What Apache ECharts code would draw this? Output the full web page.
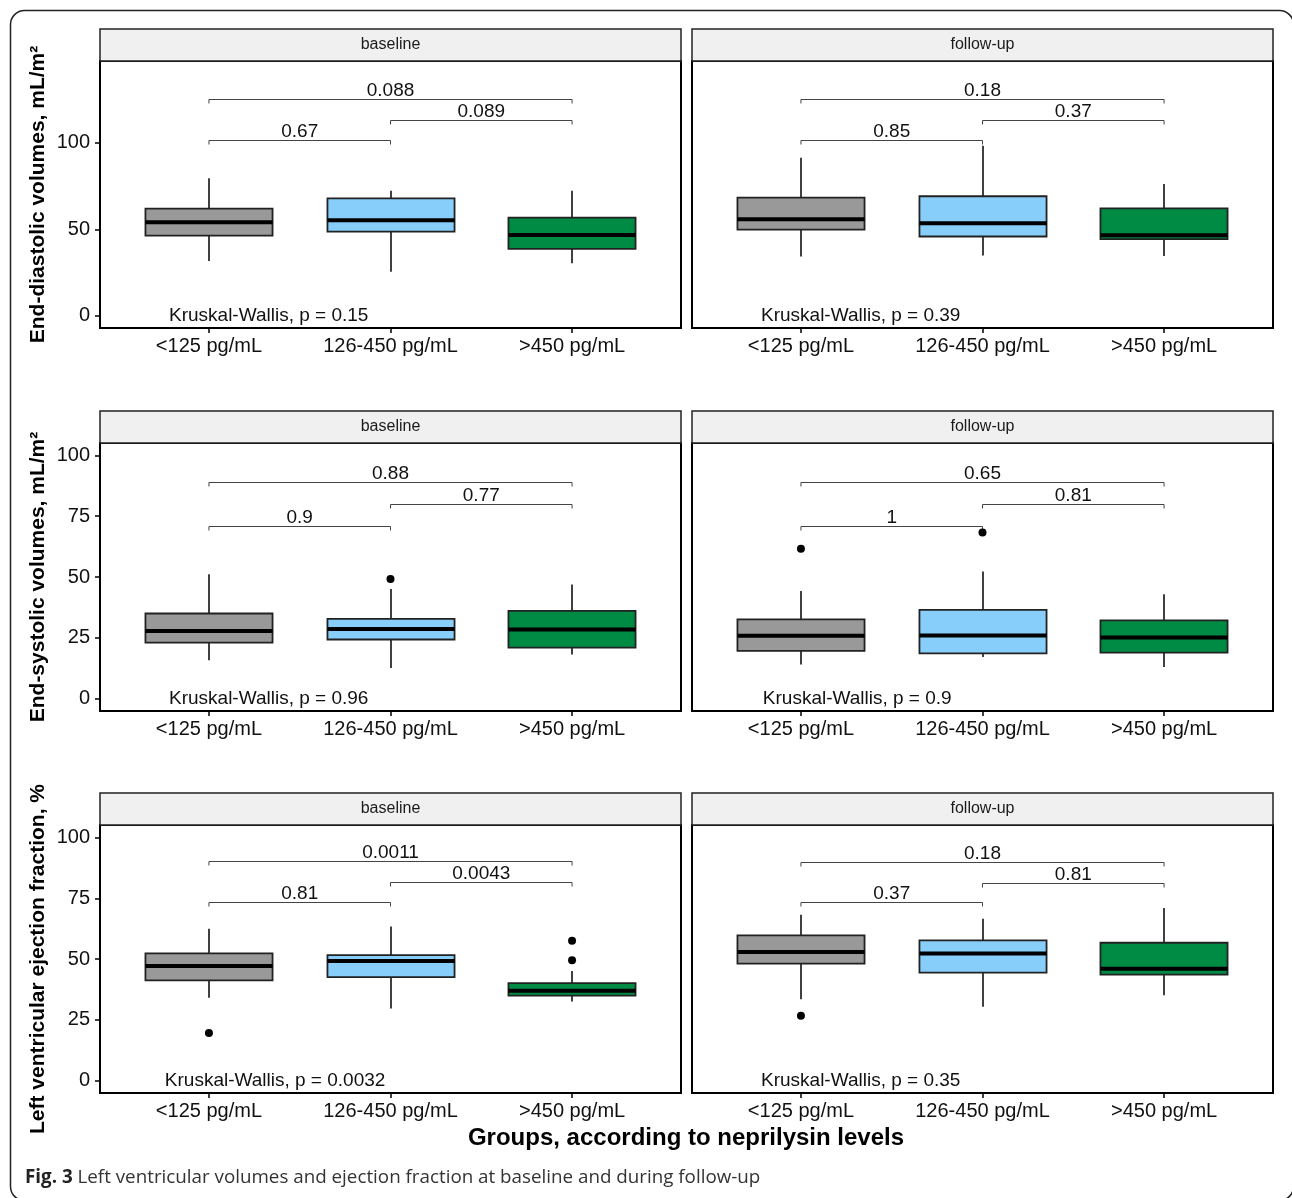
<!DOCTYPE html>
<html><head><meta charset="utf-8">
<script src="https://cdn.jsdelivr.net/npm/echarts@6/dist/echarts.min.js"></script>
<style>html,body{margin:0;padding:0;background:#fff}#c{width:1292px;height:1198px}</style>
</head><body><div id="c"></div>
<script>
// ---------------- data ----------------
const categories = ['<125 pg/mL', '126-450 pg/mL', '>450 pg/mL'];
const timepoints = ['baseline', 'follow-up'];
const measureTitles = ['End-diastolic volumes, mL/m²', 'End-systolic volumes, mL/m²', 'Left ventricular ejection fraction, %'];
const xAxisTitle = 'Groups, according to neprilysin levels';
const captionLead = 'Fig. 3';
const captionText = 'Left ventricular volumes and ejection fraction at baseline and during follow-up';

const yTicksEDV = [0, 50, 100];
const yTicksESV = [0, 25, 50, 75, 100];
const yTicksLVEF = [0, 25, 50, 75, 100];

// [lower whisker, Q1, median, Q3, upper whisker] for each group
const edvBaseline = [[31.6, 46.3, 54.1, 61.9, 79.5], [25.4, 48.6, 55.2, 67.9, 72.3], [30.4, 38.7, 46.7, 56.7, 72.3]];
const edvFollowup = [[34.2, 49.8, 55.8, 68.3, 91.3], [34.8, 45.8, 53.5, 69.1, 98.3], [34.6, 44.3, 46.6, 62.1, 76.2]];
const esvBaseline = [[15.8, 23.0, 27.8, 35.0, 51.1], [12.6, 24.3, 28.6, 32.8, 45.1], [18.1, 21.0, 28.4, 36.1, 46.9]];
const esvFollowup = [[14.0, 19.6, 25.8, 32.6, 44.2], [17.1, 18.6, 25.9, 36.5, 52.3], [13.0, 18.9, 25.1, 32.2, 42.9]];
const lvefBaseline = [[34.0, 41.2, 47.1, 52.3, 62.5], [29.6, 42.5, 49.2, 51.6, 63.4], [32.5, 34.9, 36.9, 40.1, 45.1]];
const lvefFollowup = [[33.4, 48.1, 52.9, 59.7, 68.2], [30.3, 44.4, 52.3, 57.7, 66.6], [35.1, 43.6, 46.0, 56.7, 71.0]];

// outliers: [group number, value]
const edvBaselineOut = [];
const edvFollowupOut = [];
const esvBaselineOut = [[2, 49.2]];
const esvFollowupOut = [[1, 61.6], [2, 68.3]];
const lvefBaselineOut = [[1, 19.5], [3, 57.5], [3, 49.5]];
const lvefFollowupOut = [[1, 26.6]];

// pairwise comparisons: groups 1-2, 2-3, 1-3
const comparisonPairs = [[1, 2], [2, 3], [1, 3]];
const edvBaselineP = ['0.67', '0.089', '0.088'];
const edvFollowupP = ['0.85', '0.37', '0.18'];
const esvBaselineP = ['0.9', '0.77', '0.88'];
const esvFollowupP = ['1', '0.81', '0.65'];
const lvefBaselineP = ['0.81', '0.0043', '0.0011'];
const lvefFollowupP = ['0.37', '0.81', '0.18'];
// bracket heights (y values)
const edvBracketY = [101.6, 113.3, 125.2];
const esvBracketY = [71.0, 80.0, 89.0];
const lvefBaselineBracketY = [73.5, 81.8, 90.3];
const lvefFollowupBracketY = [73.3, 81.5, 90.1];

// Kruskal-Wallis p values
const edvKW = ['0.15', '0.39'];
const esvKW = ['0.96', '0.9'];
const lvefKW = ['0.0032', '0.35'];

// ---------------- layout / style ----------------
const FONT = "'Liberation Sans', Arial, Helvetica, sans-serif";
const CAPFONT = "'Open Sans', 'Noto Sans', sans-serif";
const boxColors = ['#999999', '#87CEFA', '#008B45'];
const boxWidth = 0.7;
const colLeft = [100, 692];
const panelW = 581;
const rowTop = [61, 443, 825];
const rowH = [267, 268, 268];
const stripH = 32;
const yRanges = [[-7.1, 147.3], [-5.1, 105.1], [-5.2, 105.2]];
const kwX = [[0.78, 0.78], [0.78, 0.79], [0.757, 0.78]];

const panels = [
  { row: 0, col: 0, box: edvBaseline, out: edvBaselineOut, p: edvBaselineP, by: edvBracketY, kw: edvKW[0], ticks: yTicksEDV },
  { row: 0, col: 1, box: edvFollowup, out: edvFollowupOut, p: edvFollowupP, by: edvBracketY, kw: edvKW[1], ticks: yTicksEDV },
  { row: 1, col: 0, box: esvBaseline, out: esvBaselineOut, p: esvBaselineP, by: esvBracketY, kw: esvKW[0], ticks: yTicksESV },
  { row: 1, col: 1, box: esvFollowup, out: esvFollowupOut, p: esvFollowupP, by: esvBracketY, kw: esvKW[1], ticks: yTicksESV },
  { row: 2, col: 0, box: lvefBaseline, out: lvefBaselineOut, p: lvefBaselineP, by: lvefBaselineBracketY, kw: lvefKW[0], ticks: yTicksLVEF },
  { row: 2, col: 1, box: lvefFollowup, out: lvefFollowupOut, p: lvefFollowupP, by: lvefFollowupBracketY, kw: lvefKW[1], ticks: yTicksLVEF }
];

function renderBox(params, api) {
  const x = api.value(0);
  const lo = api.coord([x, api.value(1)]);
  const q1 = api.coord([x, api.value(2)]);
  const md = api.coord([x, api.value(3)]);
  const q3 = api.coord([x, api.value(4)]);
  const hi = api.coord([x, api.value(5)]);
  const w = api.size([boxWidth, 0])[0];
  const cx = Math.round(lo[0]);
  return {
    type: 'group',
    children: [
      { type: 'line', shape: { x1: cx, y1: hi[1], x2: cx, y2: q3[1] }, style: { stroke: '#111', lineWidth: 1.6 } },
      { type: 'line', shape: { x1: cx, y1: q1[1], x2: cx, y2: lo[1] }, style: { stroke: '#111', lineWidth: 1.6 } },
      { type: 'rect', shape: { x: cx - w / 2, y: q3[1], width: w, height: q1[1] - q3[1] },
        style: { fill: boxColors[params.dataIndex], stroke: '#222', lineWidth: 1.8 } },
      { type: 'line', shape: { x1: cx - w / 2, y1: md[1], x2: cx + w / 2, y2: md[1] }, style: { stroke: '#000', lineWidth: 4 } }
    ]
  };
}

function makeBracketRenderer(labels) {
  return function (params, api) {
    const a = api.coord([api.value(0), api.value(2)]);
    const b = api.coord([api.value(1), api.value(2)]);
    const y = Math.round(a[1]) + 0.5;
    const tip = 4;
    return {
      type: 'group',
      children: [
        { type: 'polyline', shape: { points: [[a[0], y + tip], [a[0], y], [b[0], y], [b[0], y + tip]] },
          style: { stroke: '#444', lineWidth: 1, fill: null } },
        { type: 'text', x: (a[0] + b[0]) / 2, y: y + 1,
          style: { text: labels[params.dataIndex], fill: '#111', fontSize: 19, fontFamily: FONT, align: 'center', verticalAlign: 'bottom' } }
      ]
    };
  };
}

function makeKWRenderer(txt) {
  return function (params, api) {
    const a = api.coord([api.value(0), api.value(1)]);
    return { type: 'text', x: a[0], y: a[1],
      style: { text: 'Kruskal-Wallis, p = ' + txt, fill: '#111', fontSize: 19, fontFamily: FONT, align: 'left', verticalAlign: 'middle' } };
  };
}

const grid = [], xAxis = [], yAxis = [], series = [], graphic = [];

// outer frame
graphic.push({ type: 'rect', z: 0, shape: { x: 10.5, y: 10.5, width: 1283, height: 1190, r: 14 },
  style: { fill: 'none', stroke: '#222', lineWidth: 1.5 } });

panels.forEach((pn, i) => {
  const left = colLeft[pn.col], top = rowTop[pn.row], h = rowH[pn.row];
  grid.push({ left: left, top: top, width: panelW, height: h, show: true, borderColor: '#000', borderWidth: 2,
    backgroundColor: 'transparent', outerBoundsMode: 'none' });
  xAxis.push({
    type: 'value', gridIndex: i, min: 0.4, max: 3.6,
    axisLine: { show: true, onZero: false, lineStyle: { color: '#000', width: 2 } },
    axisTick: { show: true, customValues: [1, 2, 3], length: 5, lineStyle: { color: '#000', width: 1.5 } },
    axisLabel: { show: true, customValues: [1, 2, 3], margin: 8, color: '#111', fontSize: 20, fontFamily: FONT,
      formatter: v => categories[Math.round(v) - 1] },
    splitLine: { show: false }
  });
  yAxis.push({
    type: 'value', gridIndex: i, min: yRanges[pn.row][0], max: yRanges[pn.row][1],
    axisLine: { show: true, onZero: false, lineStyle: { color: '#000', width: 2 } },
    axisTick: { show: pn.col === 0, customValues: pn.ticks, length: 5, lineStyle: { color: '#000', width: 1.5 } },
    axisLabel: { show: pn.col === 0, customValues: pn.ticks, margin: 10, color: '#111', fontSize: 20, fontFamily: FONT },
    splitLine: { show: false }
  });
  series.push({
    type: 'custom', xAxisIndex: i, yAxisIndex: i, renderItem: renderBox, z: 2,
    encode: { x: 0, y: [1, 5] },
    data: pn.box.map((b, k) => [k + 1].concat(b))
  });
  series.push({
    type: 'scatter', xAxisIndex: i, yAxisIndex: i, symbol: 'circle', symbolSize: 8, z: 3,
    itemStyle: { color: '#000', opacity: 1 }, data: pn.out, silent: true
  });
  series.push({
    type: 'custom', xAxisIndex: i, yAxisIndex: i, renderItem: makeBracketRenderer(pn.p), z: 3,
    encode: { x: [0, 1], y: 2 },
    data: comparisonPairs.map((pr, k) => [pr[0], pr[1], pn.by[k]])
  });
  series.push({
    type: 'custom', xAxisIndex: i, yAxisIndex: i, renderItem: makeKWRenderer(pn.kw), z: 3,
    encode: { x: 0, y: 1 },
    data: [[kwX[pn.row][pn.col], 0]]
  });
  // facet strip
  graphic.push({ type: 'rect', z: 1, shape: { x: left, y: top - stripH, width: panelW, height: stripH },
    style: { fill: '#F0F0F0', stroke: '#222', lineWidth: 1.5 } });
  graphic.push({ type: 'text', z: 2, x: left + panelW / 2, y: top - stripH / 2,
    style: { text: timepoints[pn.col], fill: '#1a1a1a', fontSize: 16, fontFamily: FONT, align: 'center', verticalAlign: 'middle' } });
});

// y-axis titles
measureTitles.forEach((t, r) => {
  graphic.push({ type: 'text', z: 2, x: 38, y: rowTop[r] + rowH[r] / 2, rotation: Math.PI / 2,
    style: { text: t, fill: '#000', fontSize: 21, fontWeight: 'bold', fontFamily: FONT, align: 'center', verticalAlign: 'middle' } });
});
// x-axis title
graphic.push({ type: 'text', z: 2, x: 686, y: 1138,
  style: { text: xAxisTitle, fill: '#000', fontSize: 24, fontWeight: 'bold', fontFamily: FONT, align: 'center', verticalAlign: 'middle' } });
// caption
graphic.push({ type: 'text', z: 2, x: 25, y: 1178,
  style: { text: '{b|' + captionLead + '} {n|' + captionText + '}', align: 'left', verticalAlign: 'middle',
    rich: { b: { fontFamily: CAPFONT, fontWeight: 'bold', fontSize: 18.8, fill: '#222', color: '#222' },
            n: { fontFamily: CAPFONT, fontSize: 18.8, fill: '#333', color: '#333' } },
    fontFamily: CAPFONT, fontSize: 18.8, fill: '#333' } });

const chart = echarts.init(document.getElementById('c'), null, { renderer: 'canvas' });
chart.setOption({ animation: false, backgroundColor: '#fff', grid, xAxis, yAxis, series, graphic });
</script></body></html>
